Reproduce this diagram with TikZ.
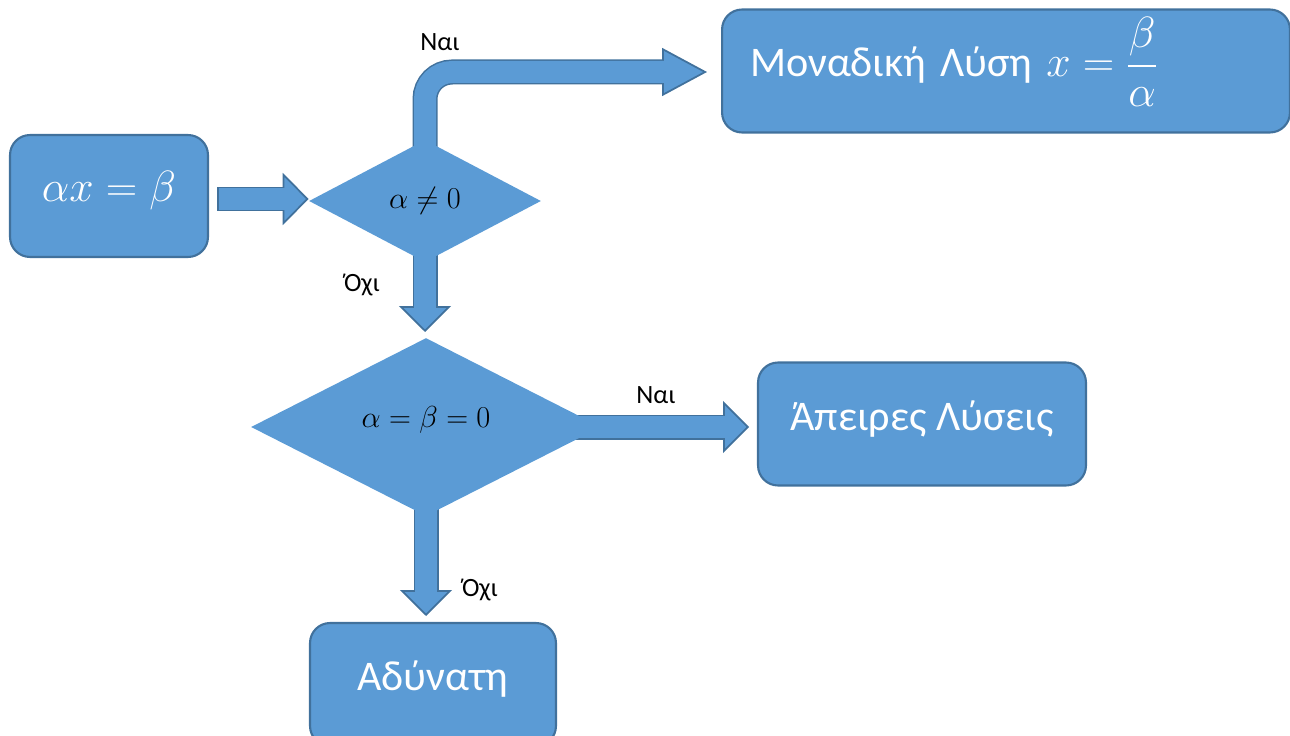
\documentclass[tikz,border=0pt]{standalone}
\usepackage{amsmath}
\usepackage{amssymb}
\usepackage{fontspec}
\setmainfont{Carlito}
\usepackage{tikz}
\usepackage{xcolor}
\usetikzlibrary{arrows.meta, positioning}
\usetikzlibrary{shapes.geometric, backgrounds}
\definecolor{boxfill}{HTML}{5B9BD5}
\definecolor{boxline}{HTML}{41719C}
\tikzstyle{result} = [rectangle, rounded corners=0.4cm, draw=boxline, line width=1.2pt, fill=boxfill, text=white, text height=0.7cm, text depth=0.46cm, font=\fontsize{24}{29}\selectfont]
\tikzstyle{decision} = [diamond, fill=boxfill, inner sep=0pt, font=\fontsize{17}{20}\selectfont]
\tikzstyle{answer} = [font=\fontsize{15}{18}\selectfont]
\tikzstyle{arrow} = [line width=0.5cm, draw=boxline, -{Triangle[length=0.52cm, width=1.04cm, fill=boxfill, color=boxline, line width=1pt]}, postaction={draw=boxfill, line width=0.44cm, -, shorten <=0.04cm, shorten >=0.46cm}]
\tikzstyle{bentarrow} = [line width=0.5cm, draw=boxline, rounded corners=0.54cm, -{Triangle[length=0.9cm, width=0.96cm, fill=boxfill, color=boxline, line width=1pt]}, postaction={draw=boxfill, line width=0.44cm, -, shorten >=0.84cm}]

\begin{document}
\begin{tikzpicture}[x=0.02cm, y=-0.02cm]
\useasboundingbox (0,0) rectangle (1290,736);

% Nodes
\node (equation) [result, minimum width=3.96cm, minimum height=2.44cm] at (109,196) {$\alpha x=\beta$};
\node (unique) [result, minimum width=11.36cm, minimum height=2.46cm, inner xsep=0.56cm, text width=10.24cm, align=left] at (1006,71) {Μοναδική Λύση $x=\dfrac{\beta}{\alpha}$};
\node (infinite) [result, minimum width=6.56cm, minimum height=2.46cm] at (922,424) {Άπειρες Λύσεις};
\node (impossible) [result, minimum width=4.92cm, minimum height=2.46cm] at (433,684.5) {Αδύνατη};
\node (nonzero) [decision, minimum width=4.64cm, minimum height=2.44cm] at (425,201) {$\alpha\neq 0$};
\node (allzero) [decision, minimum width=7cm, minimum height=3.56cm, text height=0.35cm, text depth=0.33cm] at (426,427) {$\alpha=\beta=0$};

% Labels
\node (yes1) [answer] at (440,42) {Ναι};
\node (no1) [answer] at (362,285) {Όχι};
\node (yes2) [answer] at (656,395) {Ναι};
\node (no2) [answer] at (480,590) {Όχι};

% Arrow ends
\coordinate (start1) at (217,199);
\coordinate (tip2) at (707,72);
\coordinate (tip3) at (425,332);
\coordinate (tip4) at (749,427);
\coordinate (tip5) at (426,616);

% Arrows
\begin{pgfonlayer}{background}
\draw [arrow] (start1) -- (start1 -| nonzero.west);
\draw [bentarrow] (nonzero.center) |- (tip2);
\draw [arrow] (nonzero.center) -- (tip3);
\draw [arrow] (allzero.center) -- (tip4);
\draw [arrow] (allzero.center) -- (tip5);
\end{pgfonlayer}

\end{tikzpicture}
\end{document}
